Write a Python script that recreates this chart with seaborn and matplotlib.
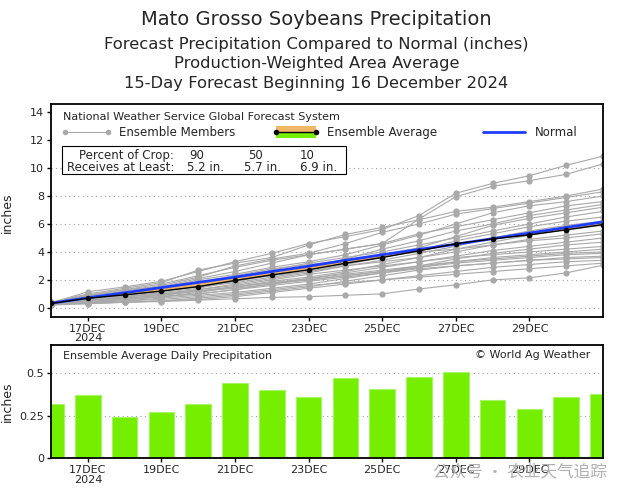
import numpy as np
import pandas as pd
import matplotlib
matplotlib.use("Agg")
import matplotlib.pyplot as plt
from matplotlib.patches import Rectangle
import seaborn as sns

# days of the forecast (December 2024)
days = [16, 17, 18, 19, 20, 21, 22, 23, 24, 25, 26, 27, 28, 29, 30, 31]
tick_days = [17, 19, 21, 23, 25, 27, 29]
tick_labels = ["17DEC\n2024", "19DEC", "21DEC", "23DEC", "25DEC", "27DEC", "29DEC"]

# ensemble average daily precipitation (inches)
daily_avg = [0.32, 0.37, 0.24, 0.27, 0.32, 0.44, 0.40, 0.36,
             0.47, 0.41, 0.48, 0.51, 0.34, 0.29, 0.36, 0.38]

# cumulative normal precipitation
normal = [0.33, 0.72, 1.08, 1.45, 1.82, 2.20, 2.60, 2.98,
          3.40, 3.80, 4.18, 4.55, 4.95, 5.35, 5.75, 6.15]

# cumulative precipitation of the ensemble members
members = [
    [0.35, 1.15, 1.5, 1.9, 2.6, 3.3, 3.9, 4.6, 5.1, 5.6, 6.6, 8.2, 8.9, 9.45, 10.2, 10.85],
    [0.3, 0.9, 1.3, 1.7, 2.3, 2.9, 3.4, 3.8, 4.2, 4.6, 6.35, 7.95, 8.7, 9.1, 9.55, 10.3],
    [0.4, 1.0, 1.4, 1.8, 2.7, 3.2, 3.6, 4.5, 5.25, 5.75, 6.3, 6.9, 7.2, 7.6, 8.0, 8.5],
    [0.3, 0.8, 1.2, 1.6, 2.2, 3.0, 3.5, 3.9, 4.6, 5.4, 6.0, 6.7, 7.1, 7.5, 7.9, 8.3],
    [0.25, 0.7, 1.1, 1.4, 2.0, 2.4, 2.9, 3.3, 3.8, 4.5, 5.2, 6.0, 6.8, 7.3, 7.6, 8.0],
    [0.35, 0.9, 1.3, 1.5, 2.1, 2.6, 3.2, 3.8, 4.2, 4.6, 5.3, 5.8, 6.3, 6.8, 7.3, 7.6],
    [0.3, 0.6, 0.9, 1.2, 1.6, 2.0, 2.4, 2.9, 3.5, 4.2, 4.8, 5.5, 6.0, 6.6, 7.0, 7.4],
    [0.2, 0.5, 0.8, 1.1, 1.4, 1.9, 2.5, 3.0, 3.4, 3.8, 4.3, 5.1, 5.9, 6.4, 6.8, 7.2],
    [0.3, 0.7, 0.9, 1.2, 1.7, 2.2, 2.7, 3.2, 3.6, 4.0, 4.5, 5.0, 5.5, 6.0, 6.5, 6.9],
    [0.35, 0.8, 1.1, 1.3, 1.6, 1.9, 2.3, 2.6, 3.1, 3.6, 4.1, 4.8, 5.3, 5.8, 6.2, 6.5],
    [0.3, 0.6, 0.8, 1.0, 1.3, 1.7, 2.1, 2.5, 3.0, 3.4, 3.9, 4.4, 5.0, 5.5, 5.9, 6.2],
    [0.25, 0.5, 0.7, 0.9, 1.2, 1.5, 1.9, 2.2, 2.6, 3.1, 3.6, 4.2, 4.7, 5.2, 5.6, 5.9],
    [0.3, 0.7, 1.0, 1.2, 1.5, 1.8, 2.2, 2.6, 3.0, 3.3, 3.6, 4.0, 4.5, 4.9, 5.2, 5.5],
    [0.4, 0.9, 1.1, 1.4, 1.8, 2.3, 2.8, 3.1, 3.4, 3.7, 4.0, 4.2, 4.5, 4.8, 5.0, 5.3],
    [0.3, 0.5, 0.6, 0.8, 1.0, 1.3, 1.7, 2.1, 2.5, 2.9, 3.3, 3.7, 4.1, 4.4, 4.7, 5.0],
    [0.25, 0.4, 0.6, 0.8, 1.1, 1.5, 1.8, 2.0, 2.3, 2.6, 3.0, 3.5, 3.9, 4.2, 4.5, 4.7],
    [0.3, 0.6, 0.8, 1.0, 1.3, 1.6, 2.0, 2.4, 2.7, 3.0, 3.3, 3.6, 3.8, 4.0, 4.2, 4.4],
    [0.2, 0.4, 0.5, 0.7, 0.9, 1.1, 1.4, 1.7, 2.1, 2.5, 2.9, 3.3, 3.6, 3.8, 4.0, 4.2],
    [0.3, 0.5, 0.7, 0.9, 1.2, 1.5, 1.8, 2.1, 2.4, 2.7, 3.0, 3.3, 3.5, 3.7, 3.9, 4.0],
    [0.35, 0.6, 0.8, 1.0, 1.2, 1.4, 1.7, 2.0, 2.3, 2.6, 2.9, 3.2, 3.4, 3.6, 3.8, 3.9],
    [0.25, 0.3, 0.4, 0.5, 0.7, 0.9, 1.2, 1.5, 1.9, 2.3, 2.7, 3.0, 3.2, 3.4, 3.6, 3.7],
    [0.3, 0.5, 0.6, 0.8, 1.0, 1.3, 1.6, 1.9, 2.2, 2.5, 2.8, 3.0, 3.2, 3.4, 3.5, 3.6],
    [0.2, 0.3, 0.4, 0.5, 0.6, 0.8, 1.1, 1.4, 1.7, 2.0, 2.3, 2.6, 2.9, 3.1, 3.3, 3.4],
    [0.3, 0.4, 0.5, 0.6, 0.8, 1.0, 1.3, 1.6, 1.8, 2.0, 2.2, 2.4, 2.6, 2.8, 3.0, 3.2],
    [0.3, 0.35, 0.4, 0.45, 0.55, 0.65, 0.75, 0.8, 0.9, 1.0, 1.35, 1.65, 2.0, 2.15, 2.5, 3.05],
]

crop_pct = ["90", "50", "10"]
crop_amt = ["5.2 in.", "5.7 in.", "6.9 in."]

avg = np.cumsum(daily_avg)
normal = np.array(normal)

mem_df = pd.DataFrame([
    {"member": i, "day": d, "precip": v}
    for i, row in enumerate(members) for d, v in zip(days, row)
])

sns.set_style("white")
plt.rcParams["font.family"] = ["DejaVu Sans", "Noto Sans CJK SC"]

fig = plt.figure(figsize=(6.33, 4.96), dpi=100)
ax = fig.add_axes([0.0806, 0.361, 0.872, 0.429])
ax2 = fig.add_axes([0.0806, 0.0766, 0.872, 0.2278])

# titles
fig.text(0.5, 0.960, "Mato Grosso Soybeans Precipitation", ha="center", va="center", fontsize=14)
fig.text(0.5, 0.911, "Forecast Precipitation Compared to Normal (inches)", ha="center", va="center", fontsize=11.8)
fig.text(0.5, 0.871, "Production-Weighted Area Average", ha="center", va="center", fontsize=11.8)
fig.text(0.5, 0.831, "15-Day Forecast Beginning 16 December 2024", ha="center", va="center", fontsize=11.8)

# ---- top panel: cumulative precipitation
for v in [0, 2, 4, 6, 8, 10]:
    ax.axhline(v, color="#a0a0a0", ls=(0, (1, 3)), lw=0.8, zorder=0)

sns.lineplot(data=mem_df, x="day", y="precip", units="member", estimator=None,
             color="#a9a9a9", lw=0.8, marker="o", markersize=4.5,
             markeredgewidth=0, ax=ax, legend=False, zorder=2)

ax.fill_between(days, avg, normal, where=normal >= avg, interpolate=True,
                color="#f2b766", lw=0, zorder=3)
ax.fill_between(days, avg, normal, where=normal < avg, interpolate=True,
                color="#76ee00", lw=0, zorder=3)
sns.lineplot(x=days, y=normal, color="#1f3dff", lw=2, ax=ax, zorder=4)
sns.lineplot(x=days, y=avg, color="black", lw=1, marker="o", markersize=4,
             markeredgewidth=0, ax=ax, zorder=5)

ax.set_xlim(16, 31)
ax.set_ylim(-0.65, 14.57)
ax.set_yticks([0, 2, 4, 6, 8, 10, 12, 14])
ax.set_xticks(tick_days)
ax.set_xticklabels(tick_labels, fontsize=7.5, linespacing=0.95)
ax.set_xlabel("")
ax.set_ylabel("inches", fontsize=9)
ax.yaxis.set_label_coords(-0.068, 0.49)

# legend area
t = ax.transAxes
ax.text(0.022, 0.939, "National Weather Service Global Forecast System",
        transform=t, fontsize=8, va="center")
ax.plot([0.025, 0.103], [0.869, 0.869], color="#a9a9a9", lw=0.8,
        marker="o", markersize=4, markeredgewidth=0, transform=t)
ax.text(0.123, 0.869, "Ensemble Members", transform=t, fontsize=8.5, va="center")
ax.add_patch(Rectangle((0.408, 0.869), 0.072, 0.028, transform=t,
                       color="#f2b766", lw=0, zorder=5))
ax.add_patch(Rectangle((0.408, 0.841), 0.072, 0.028, transform=t,
                       color="#76ee00", lw=0, zorder=5))
ax.plot([0.408, 0.480], [0.869, 0.869], color="black", lw=1, marker="o",
        markersize=4, markeredgewidth=0, transform=t, zorder=6)
ax.text(0.500, 0.869, "Ensemble Average", transform=t, fontsize=8.5, va="center")
ax.plot([0.783, 0.859], [0.869, 0.869], color="#1f3dff", lw=2, transform=t)
ax.text(0.877, 0.869, "Normal", transform=t, fontsize=8.5, va="center")

ax.add_patch(Rectangle((0.020, 0.671), 0.514, 0.132, transform=t,
                       facecolor="white", edgecolor="black", lw=0.8, zorder=6))
ax.text(0.223, 0.761, "Percent of Crop:", transform=t, fontsize=8.5,
        ha="right", va="center", zorder=7)
ax.text(0.223, 0.704, "Receives at Least:", transform=t, fontsize=8.5,
        ha="right", va="center", zorder=7)
for xp, xa, p, a in zip([0.264, 0.370, 0.464], [0.279, 0.384, 0.484], crop_pct, crop_amt):
    ax.text(xp, 0.761, p, transform=t, fontsize=8.5, ha="center", va="center", zorder=7)
    ax.text(xa, 0.704, a, transform=t, fontsize=8.5, ha="center", va="center", zorder=7)

# ---- bottom panel: daily ensemble average
for v in [0.25, 0.5]:
    ax2.axhline(v, color="#a0a0a0", ls=(0, (1, 3)), lw=0.8, zorder=0)

sns.barplot(x=days, y=daily_avg, native_scale=True, width=0.7,
            color="#76ee00", saturation=1, edgecolor="#a6f566", linewidth=0.8,
            ax=ax2, zorder=2)

ax2.set_xlim(16, 31)
ax2.set_ylim(0, 0.667)
ax2.set_yticks([0, 0.25, 0.5])
ax2.set_yticklabels(["0", "0.25", "0.5"])
ax2.set_xticks(tick_days)
ax2.set_xticklabels(tick_labels, fontsize=7.5, linespacing=0.95)
ax2.set_xlabel("")
ax2.set_ylabel("inches", fontsize=9)
ax2.yaxis.set_label_coords(-0.068, 0.5)
ax2.text(0.022, 0.905, "Ensemble Average Daily Precipitation",
         transform=ax2.transAxes, fontsize=8, va="center")
ax2.text(0.978, 0.91, "\u00a9 World Ag Weather", transform=ax2.transAxes,
         fontsize=8, va="center", ha="right")

for a in (ax, ax2):
    for s in a.spines.values():
        s.set_color("black")
        s.set_linewidth(1.3)
    a.tick_params(axis="both", direction="out", length=3, width=1,
                  color="black", labelsize=8, pad=2, left=True, bottom=True)

# watermark overlay of the screenshot
fig.text(0.684, 0.048, "公众号 · 农业天气追踪", fontsize=12, color="#b0b0b0",
         ha="left", va="center", family=["Noto Sans CJK SC", "DejaVu Sans"])

fig.savefig("out.png", dpi=100)
